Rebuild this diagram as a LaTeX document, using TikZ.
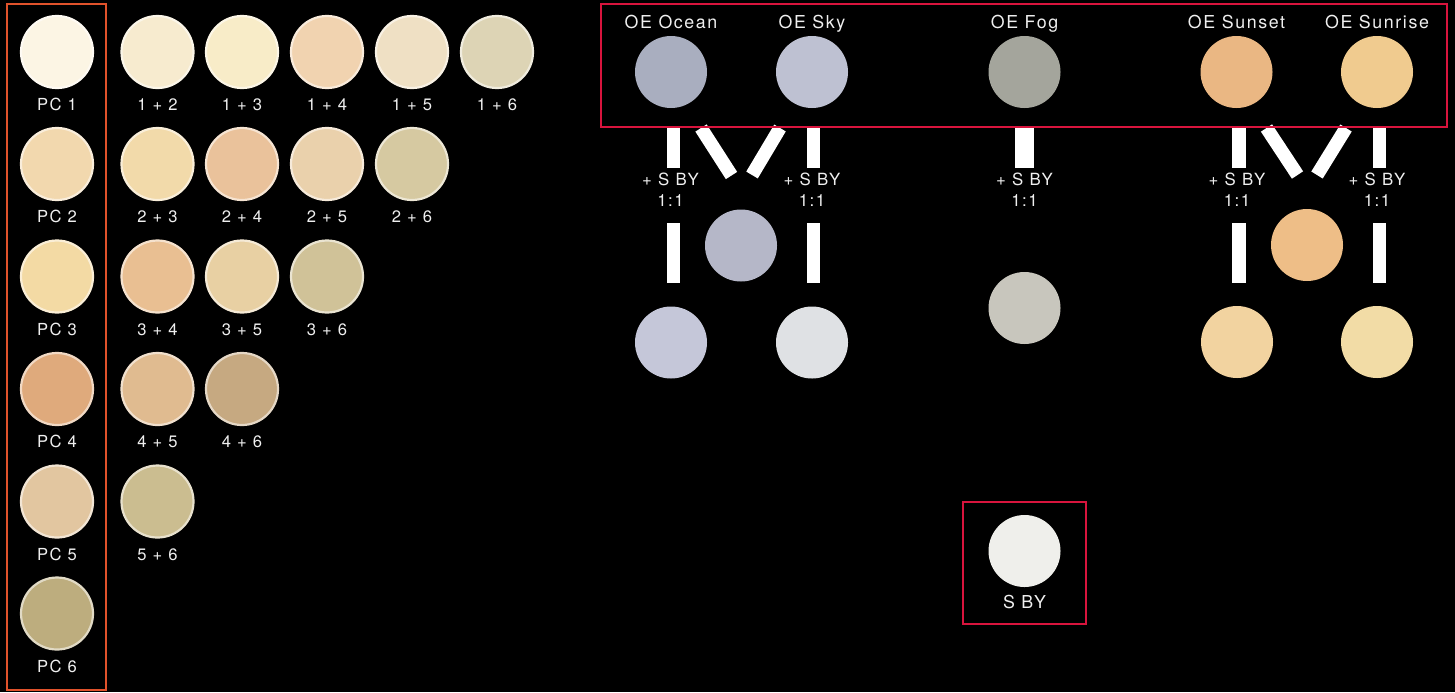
\documentclass[tikz,border=0pt]{standalone}
\usepackage{fontspec}
\setmainfont{TeX Gyre Heros}
\newfontfamily\labfont[LetterSpace=9]{TeX Gyre Heros}
\definecolor{txt}{HTML}{EFEFEF}
\definecolor{boxred}{HTML}{D8143D}
\definecolor{boxorange}{HTML}{E0522B}
% left grid
\definecolor{pa}{HTML}{FCF5E4}
\definecolor{pb}{HTML}{F2D8AE}
\definecolor{pc}{HTML}{F3DAA4}
\definecolor{pd}{HTML}{DFAA7C}
\definecolor{pe}{HTML}{E2C6A0}
\definecolor{pf}{HTML}{BDAD7E}
\definecolor{mab}{HTML}{F7EBCF}
\definecolor{mac}{HTML}{F8ECC8}
\definecolor{mad}{HTML}{F1D3B0}
\definecolor{mae}{HTML}{EFE0C4}
\definecolor{maf}{HTML}{DDD4B5}
\definecolor{mbc}{HTML}{F2DAAA}
\definecolor{mbd}{HTML}{EAC29B}
\definecolor{mbe}{HTML}{EAD1AC}
\definecolor{mbf}{HTML}{D6C9A1}
\definecolor{mcd}{HTML}{E9BF92}
\definecolor{mce}{HTML}{E8D0A3}
\definecolor{mcf}{HTML}{D0C298}
\definecolor{mde}{HTML}{E0BB90}
\definecolor{mdf}{HTML}{C6A981}
\definecolor{mef}{HTML}{CBBD90}
% right
\definecolor{ocean}{HTML}{A9AEBF}
\definecolor{sky}{HTML}{BEC1D2}
\definecolor{fog}{HTML}{A4A59C}
\definecolor{sunset}{HTML}{EAB783}
\definecolor{sunrise}{HTML}{F0CB8F}
\definecolor{midl}{HTML}{B5B7C8}
\definecolor{oceans}{HTML}{C5C7D9}
\definecolor{skys}{HTML}{DFE1E4}
\definecolor{fogs}{HTML}{C8C6BD}
\definecolor{midr}{HTML}{EEBE87}
\definecolor{sunsets}{HTML}{F2D3A0}
\definecolor{sunrises}{HTML}{F2DCA6}
\definecolor{sby}{HTML}{EFEFEB}
\begin{document}
\begin{tikzpicture}[x=0.5pt,y=-0.5pt,
  disc/.style={circle, minimum size=36pt, inner sep=0pt, fill=#1, draw=#1!45!white, line width=1.1pt},
  flatdisc/.style={circle, minimum size=36pt, inner sep=0pt, fill=#1},
  lbl/.style={text=txt, font=\labfont\fontsize{8.3}{9}\selectfont, inner sep=0pt, anchor=base},
  oelbl/.style={text=txt, font=\labfont\fontsize{8.9}{10}\selectfont, inner sep=0pt, anchor=base},
  mixlbl/.style={text=txt, font=\labfont\fontsize{8.4}{10}\selectfont, inner sep=0pt, anchor=base},
  bar/.style={draw=white, line width=6.7pt},
  widebar/.style={draw=white, line width=9.5pt},
  redbox/.style={draw=boxred, line width=1.35pt},
  orangebox/.style={draw=boxorange, line width=1.1pt}]
\fill[black] (0,0) rectangle (1455,692);
\useasboundingbox (0,0) rectangle (1455,692);

% ---------- bars (connectors) ----------
\coordinate (b1t) at (673.5,127); \coordinate (b1m) at (673.5,168);
\coordinate (b1n) at (673.5,223); \coordinate (b1b) at (673.5,283);
\coordinate (b2t) at (813.3,127); \coordinate (b2m) at (813.3,168);
\coordinate (b2n) at (813.3,223); \coordinate (b2b) at (813.3,283);
\coordinate (d1t) at (701,128); \coordinate (d1b) at (731.5,175.5);
\coordinate (d2t) at (780,128); \coordinate (d2b) at (752,175);
\coordinate (f1t) at (1024.5,127); \coordinate (f1b) at (1024.5,168);
\coordinate (b3t) at (1239,127); \coordinate (b3m) at (1239,168);
\coordinate (b3n) at (1239,223); \coordinate (b3b) at (1239,283);
\coordinate (b4t) at (1379.5,127); \coordinate (b4m) at (1379.5,168);
\coordinate (b4n) at (1379.5,223); \coordinate (b4b) at (1379.5,283);
\coordinate (d3t) at (1266.5,128); \coordinate (d3b) at (1297.5,175);
\coordinate (d4t) at (1346,128); \coordinate (d4b) at (1317,175);
\draw[bar] (b1t) -- (b1m); \draw[bar] (b1n) -- (b1b);
\draw[bar] (b2t) -- (b2m); \draw[bar] (b2n) -- (b2b);
\draw[bar] (d1t) -- (d1b); \draw[bar] (d2t) -- (d2b);
\draw[widebar] (f1t) -- (f1b);
\draw[bar] (b3t) -- (b3m); \draw[bar] (b3n) -- (b3b);
\draw[bar] (b4t) -- (b4m); \draw[bar] (b4n) -- (b4b);
\draw[bar] (d3t) -- (d3b); \draw[bar] (d4t) -- (d4b);

% ---------- boxes ----------
\draw[orangebox] (7,4) rectangle (106,690);
\draw[redbox] (601,4) rectangle (1447,127);
\draw[redbox] (963,502) rectangle (1086,624);

% ---------- left grid ----------
\node[disc=pa] (pc1) at (57,52) {};
\node[disc=pb] (pc2) at (57,164) {};
\node[disc=pc] (pc3) at (57,276.5) {};
\node[disc=pd] (pc4) at (57,389) {};
\node[disc=pe] (pc5) at (57,501.5) {};
\node[disc=pf] (pc6) at (57,613.5) {};
\node[lbl] (pc1l) at (57,110.5) {PC 1};
\node[lbl] (pc2l) at (57,222.5) {PC 2};
\node[lbl] (pc3l) at (57,335) {PC 3};
\node[lbl] (pc4l) at (57,447.5) {PC 4};
\node[lbl] (pc5l) at (57,560) {PC 5};
\node[lbl] (pc6l) at (57,672) {PC 6};

\node[disc=mab] (m12) at (157.5,52) {};
\node[disc=mac] (m13) at (242,52) {};
\node[disc=mad] (m14) at (327,52) {};
\node[disc=mae] (m15) at (412,52) {};
\node[disc=maf] (m16) at (497,52) {};
\node[lbl] (m12l) at (157.5,110.5) {1 + 2};
\node[lbl] (m13l) at (242,110.5) {1 + 3};
\node[lbl] (m14l) at (327,110.5) {1 + 4};
\node[lbl] (m15l) at (412,110.5) {1 + 5};
\node[lbl] (m16l) at (497,110.5) {1 + 6};

\node[disc=mbc] (m23) at (157.5,164) {};
\node[disc=mbd] (m24) at (242,164) {};
\node[disc=mbe] (m25) at (327,164) {};
\node[disc=mbf] (m26) at (412,164) {};
\node[lbl] (m23l) at (157.5,222.5) {2 + 3};
\node[lbl] (m24l) at (242,222.5) {2 + 4};
\node[lbl] (m25l) at (327,222.5) {2 + 5};
\node[lbl] (m26l) at (412,222.5) {2 + 6};

\node[disc=mcd] (m34) at (157.5,276.5) {};
\node[disc=mce] (m35) at (242,276.5) {};
\node[disc=mcf] (m36) at (327,276.5) {};
\node[lbl] (m34l) at (157.5,335) {3 + 4};
\node[lbl] (m35l) at (242,335) {3 + 5};
\node[lbl] (m36l) at (327,335) {3 + 6};

\node[disc=mde] (m45) at (157.5,389) {};
\node[disc=mdf] (m46) at (242,389) {};
\node[lbl] (m45l) at (157.5,447.5) {4 + 5};
\node[lbl] (m46l) at (242,447.5) {4 + 6};

\node[disc=mef] (m56) at (157.5,501.5) {};
\node[lbl] (m56l) at (157.5,560) {5 + 6};

% ---------- right side ----------
\node[oelbl] (oceanl) at (671,28) {OE Ocean};
\node[oelbl] (skyl) at (812,28) {OE Sky};
\node[oelbl] (fogl) at (1024.5,28) {OE Fog};
\node[oelbl] (sunsetl) at (1236.5,28) {OE Sunset};
\node[oelbl] (sunrisel) at (1377,28) {OE Sunrise};
\node[flatdisc=ocean] (oc) at (671,72) {};
\node[flatdisc=sky] (sk) at (812,72) {};
\node[flatdisc=fog] (fg) at (1024.5,72) {};
\node[flatdisc=sunset] (ss) at (1236.5,72) {};
\node[flatdisc=sunrise] (sr) at (1377,72) {};

\foreach \n/\x in {a/670.5, b/812, c/1024.5, d/1237, e/1377}{
  \node[mixlbl] (mix\n) at (\x,185) {+ S BY};
  \node[mixlbl] (ratio\n) at (\x,206) {1:1};
}

\node[flatdisc=midl] (ml) at (741,245.5) {};
\node[flatdisc=oceans] (ocs) at (671,342.5) {};
\node[flatdisc=skys] (sks) at (812,342.5) {};
\node[flatdisc=fogs] (fgs) at (1024.5,308) {};
\node[flatdisc=midr] (mr) at (1307,245) {};
\node[flatdisc=sunsets] (sss) at (1237,342) {};
\node[flatdisc=sunrises] (srs) at (1377,342) {};

\node[flatdisc=sby] (sbyd) at (1024.5,551) {};
\node[oelbl] (sbyl) at (1024.5,608) {S BY};
\end{tikzpicture}
\end{document}
